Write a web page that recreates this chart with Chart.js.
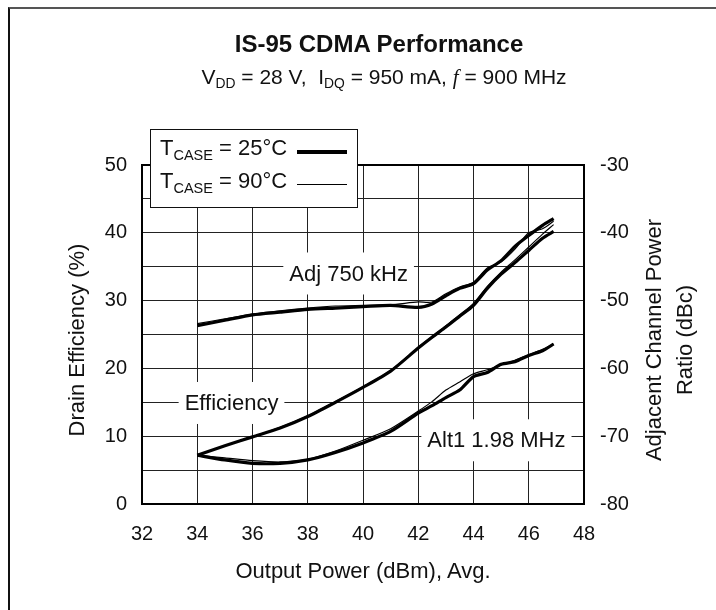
<!DOCTYPE html>
<html>
<head>
<meta charset="utf-8">
<script src="https://cdn.jsdelivr.net/npm/chart.js@4.4.1/dist/chart.umd.min.js"></script>
<style>
  body { margin: 0; background: #fff; }
  #wrap { position: relative; width: 716px; height: 610px; font-family: "Liberation Sans", Arial, sans-serif; color: #111; }
  #chart { position: absolute; left: 0; top: 0; }
  .frame { position: absolute; left: 8px; top: 7px; width: 708px; height: 603px; border-top: 2.5px solid #555; border-left: 2px solid #111; box-sizing: border-box; pointer-events: none; }
  .txt { position: absolute; white-space: nowrap; transform: translate(-50%, -50%); }
  sub { font-size: 0.66em; vertical-align: baseline; position: relative; top: 0.32em; }
  .legend { position: absolute; left: 150px; top: 129px; width: 208px; height: 79px; border: 1.5px solid #111; background: #fff; box-sizing: border-box; font-size: 22px; }
  .legend .row { position: absolute; left: 9px; }
  .legend .ln { position: absolute; left: 146px; width: 50px; background: #000; }
</style>
</head>
<body>
<div id="wrap">
  <canvas id="chart" width="716" height="610"></canvas>
  <div class="frame"></div>
  <div class="txt" style="left:379px; top:44px; font-size:24px; font-weight:bold;">IS-95 CDMA Performance</div>
  <div class="txt" style="left:384px; top:77px; font-size:21px;">V<sub>DD</sub> = 28 V,&nbsp; I<sub>DQ</sub> = 950 mA, <i style="font-family:'Liberation Serif',serif;">f</i> = 900 MHz</div>
  <div class="legend">
    <div class="row" style="top:5px;">T<sub>CASE</sub> = 25°C</div>
    <div class="ln" style="top:20px; height:3.5px;"></div>
    <div class="row" style="top:38px;">T<sub>CASE</sub> = 90°C</div>
    <div class="ln" style="top:54px; height:1.3px;"></div>
  </div>
  <div class="txt" style="left:77px; top:340px; font-size:22px; transform:translate(-50%,-50%) rotate(-90deg);">Drain Efficiency (%)</div>
  <div class="txt" style="left:669px; top:340px; font-size:22px; line-height:31px; text-align:center; transform:translate(-50%,-50%) rotate(-90deg);">Adjacent Channel Power<br>Ratio (dBc)</div>
  <div class="txt" style="left:363px; top:571px; font-size:22px;">Output Power (dBm), Avg.</div>
</div>
<script>
// output power points (dBm)
var power = [34, 35, 36, 37, 38, 39, 40, 41, 42, 42.5, 43, 43.5, 44, 44.5, 45, 45.5, 46, 46.5, 46.9];

// drain efficiency (%)
var eff25 = [7.2, 8.6, 9.9, 11.2, 12.9, 15.0, 17.2, 19.6, 23.0, 24.6, 26.1, 27.7, 29.3, 31.8, 33.9, 35.6, 37.4, 39.2, 40.2];
var eff90 = [7.2, 8.6, 9.9, 11.3, 13.0, 15.1, 17.3, 19.7, 23.1, 24.7, 26.3, 27.9, 29.6, 32.1, 34.2, 36.0, 37.9, 39.8, 41.2];

// adjacent channel 750 kHz (dBc)
var adj25 = [-53.7, -52.9, -52.1, -51.7, -51.3, -51.1, -50.9, -50.7, -51.0, -50.5, -49.3, -48.2, -47.5, -45.5, -44.1, -42.0, -40.4, -38.9, -37.9];
var adj90 = [-53.4, -52.7, -52.0, -51.5, -51.1, -50.8, -50.7, -50.6, -50.2, -50.2, -49.0, -48.0, -47.3, -45.2, -44.3, -42.4, -40.0, -39.4, -38.3];

// alternate channel 1.98 MHz (dBc)
var alt25 = [-72.8, -73.5, -74.0, -74.0, -73.5, -72.4, -71.0, -69.3, -66.6, -65.5, -64.3, -63.2, -61.2, -60.6, -59.4, -59.0, -58.1, -57.4, -56.4];
var alt90 = [-72.8, -73.2, -73.6, -73.8, -73.4, -72.2, -70.6, -68.9, -66.3, -64.9, -63.2, -62.0, -60.8, -60.2, -59.5, -58.8, -58.0, -57.2, -56.4];

var xTicks = [32, 48, 2];
var yTicks = [0, 50, 10];
var y2Ticks = [-80, -30, 10];

// curve labels, anchored in data units on the left axis
var labels = [
  { text: 'Adj 750 kHz', x: 39.48, y: 34.0 },
  { text: 'Efficiency', x: 35.24, y: 14.9 },
  { text: 'Alt1 1.98 MHz', x: 44.83, y: 9.4 }
];

function pts(ys) {
  return power.map(function (p, i) { return { x: p, y: ys[i] }; });
}

function line(data, axis, thick) {
  return {
    data: pts(data),
    yAxisID: axis,
    borderColor: '#000',
    borderWidth: thick ? 3.2 : 1.2,
    pointRadius: 0,
    tension: 0.25,
    fill: false
  };
}

var FONT = '"Liberation Sans", Arial, sans-serif';

var chartExtras = {
  id: 'chartExtras',
  beforeDatasetsDraw: function (chart) {
    var ctx = chart.ctx;
    var sx = chart.scales.x, sy = chart.scales.y;
    ctx.save();
    ctx.font = '22px ' + FONT;
    ctx.textAlign = 'center';
    ctx.textBaseline = 'middle';
    labels.forEach(function (l) {
      var px = sx.getPixelForValue(l.x), py = sy.getPixelForValue(l.y);
      var w = ctx.measureText(l.text).width + 12;
      ctx.fillStyle = '#fff';
      ctx.fillRect(px - w / 2, py - 21, w, 42);
      ctx.fillStyle = '#111';
      ctx.fillText(l.text, px, py + 1);
    });
    ctx.restore();
  },
  afterDatasetsDraw: function (chart) {
    var a = chart.chartArea, ctx = chart.ctx;
    ctx.save();
    ctx.strokeStyle = '#000';
    ctx.lineWidth = 2;
    ctx.strokeRect(a.left, a.top, a.right - a.left, a.bottom - a.top);
    ctx.restore();
  }
};

var ctx = document.getElementById('chart').getContext('2d');
var myChart = new Chart(ctx, {
  type: 'line',
  data: {
    datasets: [
      line(eff25, 'y', true),
      line(eff90, 'y', false),
      line(adj25, 'y2', true),
      line(adj90, 'y2', false),
      line(alt25, 'y2', true),
      line(alt90, 'y2', false)
    ]
  },
  options: {
    responsive: false,
    animation: false,
    layout: { padding: { top: 165, left: 0, right: 0, bottom: 0 } },
    plugins: { legend: { display: false }, tooltip: { enabled: false } },
    scales: {
      x: {
        type: 'linear',
        min: xTicks[0], max: xTicks[1],
        afterFit: function (s) { s.height = 106; },
        ticks: { stepSize: xTicks[2], padding: 18, color: '#111', font: { family: FONT, size: 20 }, autoSkip: false, maxRotation: 0 },
        grid: { color: '#222', lineWidth: 1, drawTicks: false },
        border: { display: false }
      },
      y: {
        position: 'left',
        min: yTicks[0], max: yTicks[1],
        afterFit: function (s) { s.width = 142; },
        ticks: {
          stepSize: yTicks[2] / 2, padding: 15, color: '#111', font: { family: FONT, size: 20 }, autoSkip: false,
          callback: function (v) { return v % yTicks[2] === 0 ? v : ''; }
        },
        grid: { color: '#222', lineWidth: 1, drawTicks: false },
        border: { display: false }
      },
      y2: {
        position: 'right',
        min: y2Ticks[0], max: y2Ticks[1],
        afterFit: function (s) { s.width = 132; },
        ticks: {
          stepSize: y2Ticks[2] / 2, padding: 16, color: '#111', font: { family: FONT, size: 20 }, autoSkip: false,
          callback: function (v) { return v % y2Ticks[2] === 0 ? v : ''; }
        },
        grid: { drawOnChartArea: false, drawTicks: false },
        border: { display: false }
      }
    }
  },
  plugins: [chartExtras]
});
</script>
</body>
</html>
